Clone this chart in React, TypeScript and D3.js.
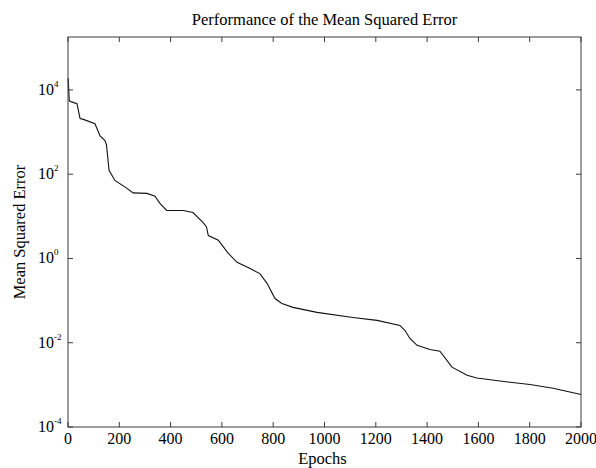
import React from "react";
import * as d3 from "d3";

const epochs = [0, 0.5, 5, 14, 35, 47, 60, 105, 125, 144, 150, 160, 183, 230, 254, 308, 339, 359, 385, 449, 487, 527, 540, 547, 586, 625, 659, 710, 748, 776, 807, 834, 877, 971, 1111, 1205, 1294, 1314, 1333, 1361, 1411, 1450, 1497, 1556, 1594, 1684, 1801, 1891, 2000];
const mse = [18600, 18600, 5500, 5200, 4700, 2100, 2000, 1580, 810, 630, 500, 123, 71, 46, 36, 35, 30, 20, 13.8, 13.8, 12.3, 7.1, 5.6, 3.5, 2.7, 1.32, 0.81, 0.575, 0.437, 0.257, 0.112, 0.085, 0.069, 0.0525, 0.0398, 0.0339, 0.0257, 0.0195, 0.0126, 0.0087, 0.0069, 0.0063, 0.00263, 0.0017, 0.00145, 0.00123, 0.00102, 0.00083, 0.00059];
const xTicks = [0, 200, 400, 600, 800, 1000, 1200, 1400, 1600, 1800, 2000];
const yTickExps = [-4, -2, 0, 2, 4];

const title = "Performance of the Mean Squared Error";
const xLabel = "Epochs";
const yLabel = "Mean Squared Error";

export default function App() {
  const W = 596, H = 468;
  const L = 68, R = 581, T = 37, B = 427;
  const x = d3.scaleLinear().domain([0, 2000]).range([L, R]);
  const y = d3.scaleLog().domain([1e-4, Math.pow(10, 5.256)]).range([B, T]);
  const pts = epochs.map((e, i) => [e, mse[i]] as [number, number]);
  const line = d3.line<[number, number]>().x(d => x(d[0])).y(d => y(d[1]));
  const font = "'Liberation Serif', 'Times New Roman', serif";
  const axisColor = "#3a3a3a";
  const tl = 5;
  return (
    <svg width={W} height={H} style={{ position: "absolute", left: 0, top: 0, background: "#fff" }} fontFamily={font}>
      <rect x={0} y={0} width={W} height={H} fill="#fff" />
      <text x={(L + R) / 2} y={25} textAnchor="middle" fontSize={16.5} fill="#000">{title}</text>
      {xTicks.map(t => (
        <g key={"x" + t}>
          <line x1={x(t)} x2={x(t)} y1={B} y2={B - tl} stroke={axisColor} />
          <line x1={x(t)} x2={x(t)} y1={T} y2={T + tl} stroke={axisColor} />
          <text x={x(t)} y={444} textAnchor="middle" fontSize={16} fill="#000">{t}</text>
        </g>
      ))}
      {yTickExps.map(e => {
        const yy = y(Math.pow(10, e));
        return (
          <g key={"y" + e}>
            <line x1={L} x2={L + tl} y1={yy} y2={yy} stroke={axisColor} />
            <line x1={R} x2={R - tl} y1={yy} y2={yy} stroke={axisColor} />
            <text x={38} y={yy + 5} fontSize={16} fill="#000">
              10<tspan dy={-8} fontSize={9}>{e}</tspan>
            </text>
          </g>
        );
      })}
      <path d={line(pts) || ""} fill="none" stroke="#111" strokeWidth={1.1} />
      <rect x={L} y={T} width={R - L} height={B - T} fill="none" stroke={axisColor} strokeWidth={1} />
      <text x={(L + R) / 2 - 2} y={464} textAnchor="middle" fontSize={16.5} fill="#000">{xLabel}</text>
      <text transform={`translate(25, ${(T + B) / 2}) rotate(-90)`} textAnchor="middle" fontSize={16.5} fill="#000">{yLabel}</text>
    </svg>
  );
}
